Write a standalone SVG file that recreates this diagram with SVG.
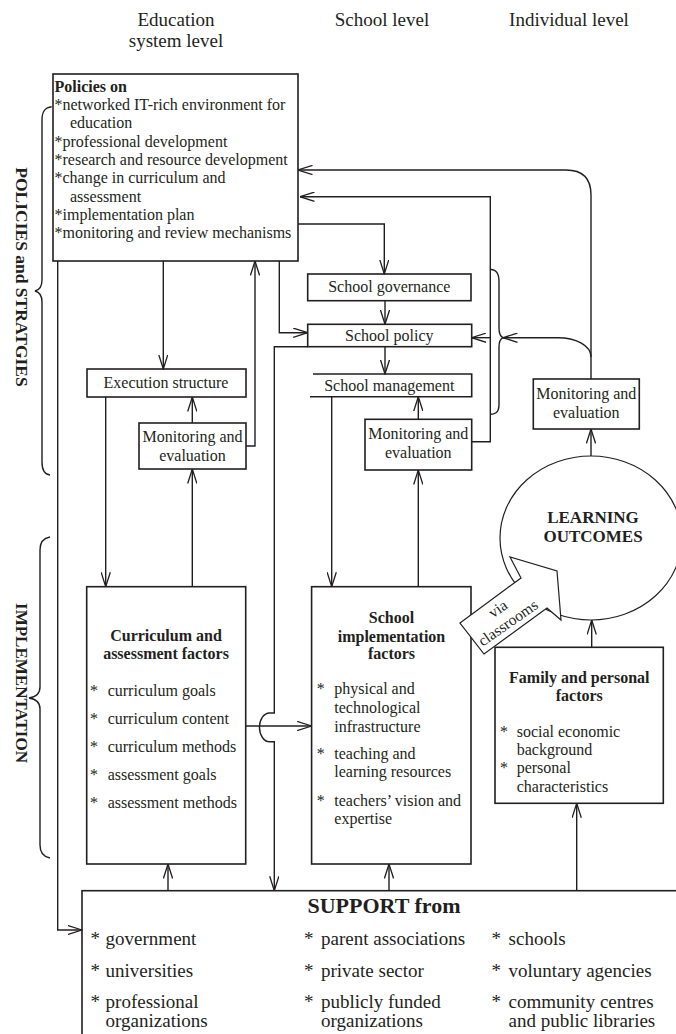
<svg xmlns="http://www.w3.org/2000/svg" width="676" height="1034" viewBox="0 0 676 1034">
<style>
.b{fill:#fff;stroke:#231f20;stroke-width:1.6}
.c{fill:none;stroke:#231f20;stroke-width:1.4}
.t{font-family:"Liberation Serif","Times New Roman",serif;font-size:16px;fill:#231f20}
.h{font-size:19px}
.s{font-size:19px}
.bd{font-weight:bold}
.m{text-anchor:middle}
</style>
<defs>
<marker id="a" viewBox="0 0 15 10" refX="14.5" refY="5" markerWidth="15" markerHeight="10" markerUnits="userSpaceOnUse" orient="auto">
<path d="M0,0.4 L14.5,5 L0,9.6" fill="none" stroke="#231f20" stroke-width="1.3"/>
</marker>
</defs>
<rect width="676" height="1034" fill="#fff"/>

<g id="headers" class="t h m">
<text x="176" y="26">Education</text>
<text x="176" y="47">system level</text>
<text x="382" y="26">School level</text>
<text x="569" y="26">Individual level</text>
</g>

<g id="side-labels">
<path class="c" d="M51.7,106.7 C45,107.5 42,111 42,120 L42,280 C42,287 39,290 35,291 C39,292 42,295 42,302 L42,462 C42,471 45,474.5 50,475"/>
<text class="t bd m" style="font-size:17.5px" transform="translate(22,277) rotate(90)" y="6">POLICIES and STRATGIES</text>
<path class="c" d="M50,537 C44,538 40,541 40,550 L40,687 C40,694 36,697 29,698 C36,699 40,702 40,709 L40,845 C40,854 44,857 50,858"/>
<text class="t bd m" style="font-size:17px" transform="translate(22,683) rotate(90)" y="6">IMPLEMENTATION</text>
</g>

<g id="policies">
<rect class="b" x="53" y="74" width="245" height="187"/>
<g class="t">
<text class="bd" x="54.5" y="91.7">Policies on</text>
<text x="54.5" y="110">*networked IT-rich environment for</text>
<text x="70" y="128.3">education</text>
<text x="54.5" y="146.7">*professional development</text>
<text x="54.5" y="165">*research and resource development</text>
<text x="54.5" y="183.3">*change in curriculum and</text>
<text x="70" y="201.7">assessment</text>
<text x="54.5" y="220">*implementation plan</text>
<text x="54.5" y="238.3">*monitoring and review mechanisms</text>
</g>
</g>

<g id="execution">
<rect class="b" x="87" y="369" width="159" height="28"/>
<text class="t m" x="166" y="388">Execution structure</text>
</g>

<g id="me-system">
<rect class="b" x="139" y="423" width="107" height="46"/>
<text class="t m" x="192.5" y="441.7">Monitoring and</text>
<text class="t m" x="192.5" y="460.7">evaluation</text>
</g>

<g id="governance">
<rect class="b" x="307.7" y="274" width="163.3" height="26.7"/>
<text class="t m" x="389.3" y="292">School governance</text>
</g>

<g id="school-policy">
<rect class="b" x="307.7" y="324.3" width="164" height="22.4"/>
<text class="t m" x="389.3" y="340.7">School policy</text>
</g>

<g id="management">
<path class="b" style="fill:none" d="M313,374 H471.7 V396.7 H310"/>
<text class="t m" x="389.3" y="391">School management</text>
</g>

<g id="me-school">
<rect class="b" x="365" y="419.3" width="106.7" height="50.7"/>
<text class="t m" x="418.3" y="439.3">Monitoring and</text>
<text class="t m" x="418.3" y="458.3">evaluation</text>
</g>

<g id="me-individual">
<rect class="b" x="533.3" y="379" width="106" height="50"/>
<text class="t m" x="586.3" y="399.3">Monitoring and</text>
<text class="t m" x="586.3" y="418.3">evaluation</text>
</g>

<g id="curriculum">
<rect class="b" x="86.7" y="586.7" width="159" height="277.3"/>
<g class="t">
<text class="bd m" x="166" y="640.7">Curriculum and</text>
<text class="bd m" x="166" y="658.7">assessment factors</text>
<text x="90" y="696">*</text><text x="107.7" y="696">curriculum goals</text>
<text x="90" y="724">*</text><text x="107.7" y="724">curriculum content</text>
<text x="90" y="752">*</text><text x="107.7" y="752">curriculum methods</text>
<text x="90" y="780">*</text><text x="107.7" y="780">assessment goals</text>
<text x="90" y="808">*</text><text x="107.7" y="808">assessment methods</text>
</g>
</g>

<g id="school-impl">
<rect class="b" x="311.6" y="586.7" width="159.4" height="277.3"/>
<g class="t">
<text class="bd m" x="391.5" y="623.3">School</text>
<text class="bd m" x="391.5" y="641.7">implementation</text>
<text class="bd m" x="391.5" y="659.3">factors</text>
<text x="316.7" y="694">*</text><text x="334.3" y="694">physical and</text>
<text x="334.3" y="712.7">technological</text>
<text x="334.3" y="731.7">infrastructure</text>
<text x="316.7" y="759">*</text><text x="334.3" y="759">teaching and</text>
<text x="334.3" y="777.3">learning resources</text>
<text x="316.7" y="805.7">*</text><text x="334.3" y="805.7">teachers’ vision and</text>
<text x="334.3" y="824">expertise</text>
</g>
</g>

<g id="family">
<rect class="b" x="495" y="647.3" width="168.3" height="156"/>
<g class="t">
<text class="bd m" x="579.3" y="682.7">Family and personal</text>
<text class="bd m" x="579.3" y="700.7">factors</text>
<text x="500" y="736.7">*</text><text x="516.7" y="736.7">social economic</text>
<text x="516.7" y="755">background</text>
<text x="500" y="773.3">*</text><text x="516.7" y="773.3">personal</text>
<text x="516.7" y="791.7">characteristics</text>
</g>
</g>

<g id="outcomes">
<ellipse cx="591" cy="538" rx="91" ry="82" fill="#fff" stroke="#231f20" stroke-width="1.2"/>
<text class="t bd m" style="font-size:17px" x="593" y="522.7">LEARNING</text>
<text class="t bd m" style="font-size:17px" x="593" y="542.3">OUTCOMES</text>
</g>

<g id="via-classrooms">
<polygon points="460,623 521,578 510,557 557,571 561,620 547,608 484,654" fill="#fff" stroke="#231f20" stroke-width="1.2"/>
<text class="t m" style="font-size:15.5px" transform="translate(498,609) rotate(-35)" y="5">via</text>
<text class="t m" style="font-size:15.5px" transform="translate(508,623) rotate(-35)" y="5">classrooms</text>
</g>

<g id="support">
<rect class="b" x="82" y="890.7" width="700" height="300"/>
<text class="t bd m" style="font-size:22px" x="384" y="913">SUPPORT from</text>
<g class="t s">
<text x="90.5" y="945">*</text><text x="105.6" y="945">government</text>
<text x="90.5" y="976.7">*</text><text x="105.6" y="976.7">universities</text>
<text x="90.5" y="1008">*</text><text x="105.6" y="1008">professional</text>
<text x="105.6" y="1027">organizations</text>
<text x="303.9" y="945">*</text><text x="321" y="945">parent associations</text>
<text x="303.9" y="976.7">*</text><text x="321" y="976.7">private sector</text>
<text x="303.9" y="1008">*</text><text x="321" y="1008">publicly funded</text>
<text x="321" y="1027">organizations</text>
<text x="491.4" y="945">*</text><text x="508.6" y="945">schools</text>
<text x="491.4" y="976.7">*</text><text x="508.6" y="976.7">voluntary agencies</text>
<text x="491.4" y="1008">*</text><text x="508.6" y="1008">community centres</text>
<text x="508.6" y="1027">and public libraries</text>
</g>
</g>

<g id="connectors" class="c" marker-end="url(#a)">
<path d="M163.3,261 V369"/>
<path d="M105.7,397 V586.7"/>
<path d="M192.3,586.7 V469"/>
<path d="M192.3,423 V397"/>
<path d="M246,446 H255 V261"/>
<path d="M57.7,261 V930 H82"/>
<path d="M298,224 H384.3 V274"/>
<path d="M279.3,261 V332.7 H307.7"/>
<path d="M385,300.7 V324.3"/>
<path d="M385,346.7 V374"/>
<path d="M331.7,396.7 V586.7"/>
<path d="M418.3,586.7 V470"/>
<path d="M418.3,419.3 V396.7"/>
<path d="M471.7,441.7 H490.3 V196.7 H300"/>
<path d="M490.3,337.7 H471.7"/>
<path d="M591,379 V195 Q591,170 566,170 H298"/>
<path d="M591,357 C591,345 575,337.7 558,337.7 H503"/>
<path d="M591,456 V429"/>
<path d="M591.7,647.3 V620"/>
<path d="M576.7,890.7 V803.3"/>
<path d="M168,890.7 V864"/>
<path d="M389,890.7 V864"/>
<path d="M307.7,346.7 H274.3 V713 H269.5 A10,14.3 0 0 0 269.5,741.7 H274.3 V890.7"/>
<path d="M245.7,726 H311.6"/>
<path marker-end="none" d="M490.3,269.3 C497,270 499,274 499,282 L499,328 C499,333.5 500.5,336.5 503,337.7 C500.5,339 499,342 499,347 L499,404 C499,411 497,414 490.3,414.3"/>
</g>
</svg>
